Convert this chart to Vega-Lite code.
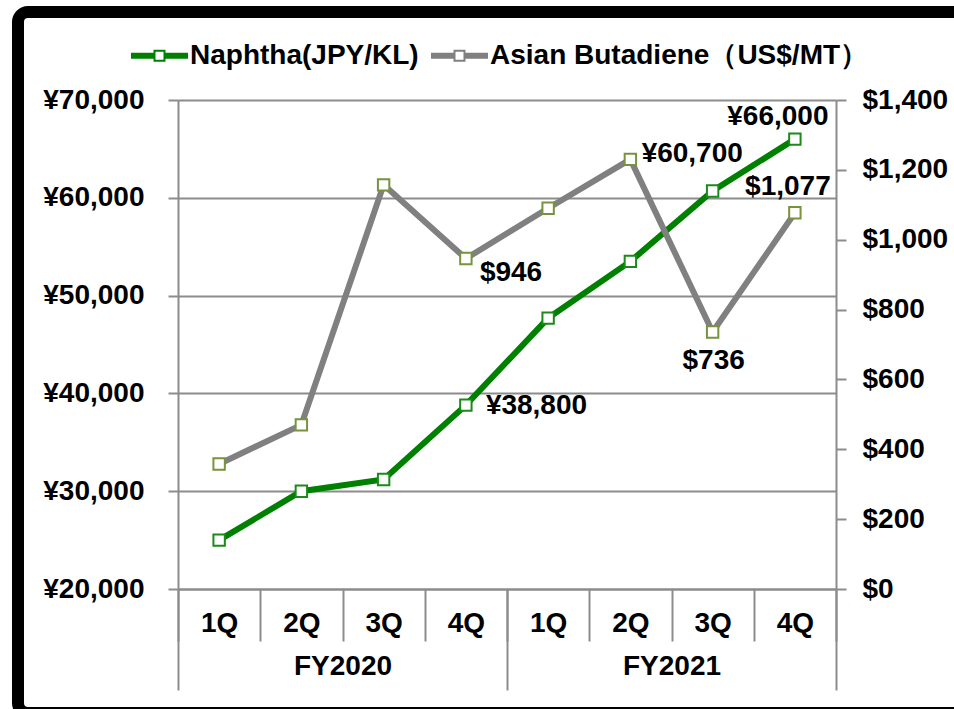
{
  "$schema": "https://vega.github.io/schema/vega-lite/v6.json",
  "autosize": "none",
  "width": 658,
  "height": 489,
  "padding": {"left": 178, "top": 100, "right": 118, "bottom": 120},
  "background": "white",
  "config": {
    "font": "Liberation Sans",
    "view": {"stroke": null},
    "axis": {"labelFont": "Liberation Sans", "labelFontWeight": "bold", "labelFontSize": 28, "labelColor": "black", "domainColor": "#8c8c8c", "tickColor": "#8c8c8c", "gridColor": "#8c8c8c", "domainWidth": 2, "tickWidth": 2, "gridWidth": 2, "title": null}
  },
  "data": {
    "values": [
      {"period": "FY2020 1Q", "fy": "FY2020", "series": "Naphtha(JPY/KL)", "value": 25000},
      {"period": "FY2020 2Q", "fy": "FY2020", "series": "Naphtha(JPY/KL)", "value": 30000},
      {"period": "FY2020 3Q", "fy": "FY2020", "series": "Naphtha(JPY/KL)", "value": 31200},
      {"period": "FY2020 4Q", "fy": "FY2020", "series": "Naphtha(JPY/KL)", "value": 38800, "label": "¥38,800"},
      {"period": "FY2021 1Q", "fy": "FY2021", "series": "Naphtha(JPY/KL)", "value": 47700},
      {"period": "FY2021 2Q", "fy": "FY2021", "series": "Naphtha(JPY/KL)", "value": 53500},
      {"period": "FY2021 3Q", "fy": "FY2021", "series": "Naphtha(JPY/KL)", "value": 60700, "label": "¥60,700"},
      {"period": "FY2021 4Q", "fy": "FY2021", "series": "Naphtha(JPY/KL)", "value": 66000, "label": "¥66,000"},
      {"period": "FY2020 1Q", "fy": "FY2020", "series": "Asian Butadiene（US$/MT）", "value": 358},
      {"period": "FY2020 2Q", "fy": "FY2020", "series": "Asian Butadiene（US$/MT）", "value": 470},
      {"period": "FY2020 3Q", "fy": "FY2020", "series": "Asian Butadiene（US$/MT）", "value": 1157},
      {"period": "FY2020 4Q", "fy": "FY2020", "series": "Asian Butadiene（US$/MT）", "value": 946, "label": "$946"},
      {"period": "FY2021 1Q", "fy": "FY2021", "series": "Asian Butadiene（US$/MT）", "value": 1090},
      {"period": "FY2021 2Q", "fy": "FY2021", "series": "Asian Butadiene（US$/MT）", "value": 1230},
      {"period": "FY2021 3Q", "fy": "FY2021", "series": "Asian Butadiene（US$/MT）", "value": 736, "label": "$736"},
      {"period": "FY2021 4Q", "fy": "FY2021", "series": "Asian Butadiene（US$/MT）", "value": 1077, "label": "$1,077"}
    ]
  },
  "layer": [
    {
      "layer": [
        {
          "transform": [{"filter": "datum.series === 'Naphtha(JPY/KL)'"}],
          "encoding": {
            "x": {"field": "period", "type": "nominal", "sort": null,
              "scale": {"type": "band", "paddingInner": 0, "paddingOuter": 0, "domain": ["FY2020 1Q", "FY2020 2Q", "FY2020 3Q", "FY2020 4Q", "FY2021 1Q", "FY2021 2Q", "FY2021 3Q", "FY2021 4Q"]},
              "axis": {"orient": "bottom", "labelAngle": 0, "labelExpr": "split(datum.value, ' ')[1]", "tickBand": "extent", "tickSize": 52, "labelPadding": -32, "labelBaseline": "top", "domain": true}},
            "y": {"field": "value", "type": "quantitative",
              "scale": {"domain": [20000, 70000], "nice": false, "zero": false},
              "axis": {"orient": "left", "values": [20000, 30000, 40000, 50000, 60000, 70000], "labelExpr": "'¥' + format(datum.value, ',')", "grid": true, "tickSize": 10, "labelPadding": 24, "domain": true}}
          },
          "layer": [
            {
              "mark": {"type": "line", "strokeWidth": 6, "point": {"shape": "square", "filled": true, "fill": "white", "stroke": "#1a8a1a", "strokeWidth": 2, "size": 130}},
              "encoding": {
                "color": {"field": "series", "type": "nominal",
                  "scale": {"domain": ["Naphtha(JPY/KL)", "Asian Butadiene（US$/MT）"], "range": ["#008000", "#808080"]},
                  "legend": {"orient": "none", "legendX": -47, "legendY": -73, "direction": "horizontal", "title": null,
                    "labelFont": "Liberation Sans", "labelFontWeight": "bold", "labelFontSize": 28, "labelColor": "black", "labelLimit": 800,
                    "symbolType": "M-1,-0.105H-0.21V0.105H-1Z M0.21,-0.105H1V0.105H0.21Z M-0.21,-0.21H0.21V0.21H-0.21Z M-0.14,-0.14V0.14H0.14V-0.14Z",
                    "symbolSize": 3249, "symbolStrokeWidth": 0, "labelOffset": 2, "columnPadding": 12,
                    "encode": {"symbols": {"update": {"fill": {"scale": "color", "field": "value"}, "strokeWidth": {"value": 0}, "opacity": {"value": 1}}}}}
                }
              }
            },
            {
              "transform": [{"filter": "datum.period === 'FY2020 4Q'"}],
              "mark": {"type": "text", "align": "left", "baseline": "middle", "dx": 20, "dy": 1, "fontSize": 28, "fontWeight": "bold", "color": "black"},
              "encoding": {"text": {"field": "label"}}
            },
            {
              "transform": [{"filter": "datum.period === 'FY2021 3Q'"}],
              "mark": {"type": "text", "align": "left", "baseline": "middle", "dx": -71, "dy": -37, "fontSize": 28, "fontWeight": "bold", "color": "black"},
              "encoding": {"text": {"field": "label"}}
            },
            {
              "transform": [{"filter": "datum.period === 'FY2021 4Q'"}],
              "mark": {"type": "text", "align": "center", "baseline": "middle", "dx": -17, "dy": -22, "fontSize": 28, "fontWeight": "bold", "color": "black"},
              "encoding": {"text": {"field": "label"}}
            }
          ]
        },
        {
          "transform": [{"filter": "datum.series !== 'Naphtha(JPY/KL)'"}],
          "encoding": {
            "x": {"field": "period", "type": "nominal", "sort": null},
            "y": {"field": "value", "type": "quantitative",
              "scale": {"domain": [0, 1400], "nice": false},
              "axis": {"orient": "right", "values": [0, 200, 400, 600, 800, 1000, 1200, 1400], "labelExpr": "'$' + format(datum.value, ',')", "grid": false, "tickSize": 10, "labelPadding": 16, "domain": true}}
          },
          "layer": [
            {
              "mark": {"type": "line", "strokeWidth": 6, "point": {"shape": "square", "filled": true, "fill": "white", "stroke": "#77933c", "strokeWidth": 2, "size": 130}},
              "encoding": {"color": {"field": "series", "type": "nominal"}}
            },
            {
              "transform": [{"filter": "datum.period === 'FY2020 4Q'"}],
              "mark": {"type": "text", "align": "left", "baseline": "middle", "dx": 14, "dy": 14, "fontSize": 28, "fontWeight": "bold", "color": "black"},
              "encoding": {"text": {"field": "label"}}
            },
            {
              "transform": [{"filter": "datum.period === 'FY2021 3Q'"}],
              "mark": {"type": "text", "align": "center", "baseline": "middle", "dx": 1, "dy": 29, "fontSize": 28, "fontWeight": "bold", "color": "black"},
              "encoding": {"text": {"field": "label"}}
            },
            {
              "transform": [{"filter": "datum.period === 'FY2021 4Q'"}],
              "mark": {"type": "text", "align": "center", "baseline": "middle", "dx": -7, "dy": -26, "fontSize": 28, "fontWeight": "bold", "color": "black"},
              "encoding": {"text": {"field": "label"}}
            }
          ]
        }
      ],
      "resolve": {"scale": {"y": "independent"}}
    },
    {
      "mark": {"type": "point", "opacity": 0},
      "encoding": {
        "x": {"field": "fy", "type": "nominal", "sort": null,
          "scale": {"type": "band", "paddingInner": 0, "paddingOuter": 0, "domain": ["FY2020", "FY2021"]},
          "axis": {"orient": "bottom", "labelAngle": 0, "tickBand": "extent", "tickSize": 101, "labelPadding": -38, "labelBaseline": "top", "domain": false}},
        "fill": {"field": "value", "type": "quantitative",
          "scale": {"range": ["transparent", "transparent"]},
          "legend": {"type": "gradient", "orient": "none", "legendX": -160, "legendY": -88, "direction": "horizontal", "title": null,
            "gradientLength": 952, "gradientThickness": 700, "gradientStrokeWidth": 0, "gradientOpacity": 0,
            "labelExpr": "''", "labelFontSize": 1, "labelOffset": 0, "labelOpacity": 0, "tickCount": 2,
            "padding": 0, "cornerRadius": 10, "fillColor": "transparent",
            "encode": {"legend": {"update": {"stroke": {"value": "black"}, "strokeWidth": {"value": 12}}}}}}
      }
    }
  ],
  "resolve": {"scale": {"x": "independent"}}
}
